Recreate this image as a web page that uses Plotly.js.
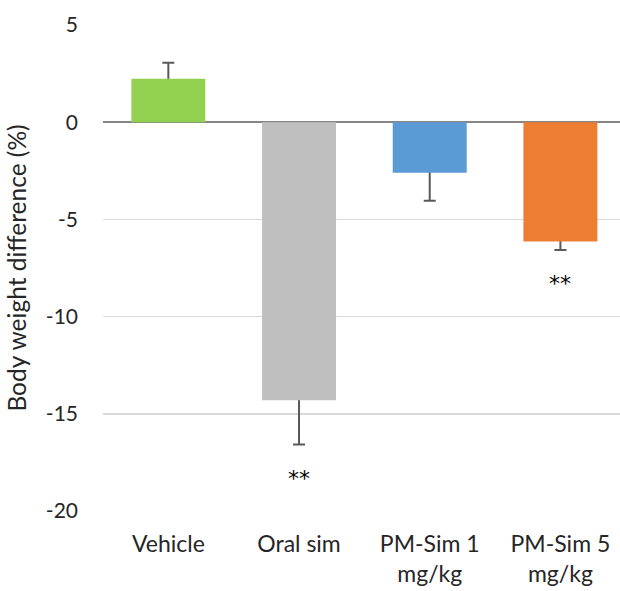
<!DOCTYPE html>
<html>
<head>
<meta charset="utf-8">
<script src="https://cdn.plot.ly/plotly-3.0.1.min.js"></script>
<style>html,body{margin:0;padding:0;background:#fff;}#chart{width:620px;height:591px;}</style>
</head>
<body>
<div id="chart"></div>
<script>
const categories = ["Vehicle", "Oral sim", "PM-Sim 1<br>mg/kg", "PM-Sim 5<br>mg/kg"];
const values = [2.24, -14.3, -2.6, -6.14];
const errors = [0.82, 2.28, 1.44, 0.43];
const colors = ["#92D050", "#BFBFBF", "#5B9BD5", "#ED7D31"];
const significance = ["", "**", "", "**"];
const yTicks = [5, 0, -5, -10, -15, -20];

// one-sided error bars: the inner cap is tucked inside the bar, which is drawn over it
const inner = 0.25;
const errPlus = values.map((v, i) => v >= 0 ? errors[i] : inner);
const errMinus = values.map((v, i) => v < 0 ? errors[i] : inner);

const errTrace = {
  type: "bar",
  x: categories,
  y: values,
  width: 0.566,
  marker: {color: "rgba(0,0,0,0)", line: {width: 0}},
  error_y: {
    type: "data",
    symmetric: false,
    array: errPlus,
    arrayminus: errMinus,
    color: "#595959",
    thickness: 2,
    width: 6
  },
  hoverinfo: "none"
};

const barTrace = {
  type: "bar",
  x: categories,
  y: values,
  width: 0.566,
  marker: {color: colors, line: {width: 0}},
  hoverinfo: "none"
};

const annotations = significance.map((s, i) => ({
  x: categories[i],
  y: values[i] - errors[i],
  xref: "x", yref: "y",
  text: s,
  showarrow: false,
  yanchor: "middle",
  yshift: -34,
  font: {family: "DejaVu Sans, sans-serif", size: 22, color: "#000"}
})).filter(a => a.text);

const layout = {
  width: 620, height: 591,
  margin: {l: 103, r: 0, t: 25, b: 80},
  paper_bgcolor: "#fff", plot_bgcolor: "#fff",
  showlegend: false,
  barmode: "overlay",
  font: {family: "Lato, sans-serif", size: 21, color: "#262626"},
  xaxis: {
    type: "category",
    range: [-0.5, 3.456],
    showgrid: false, zeroline: false, showline: false,
    ticks: "", ticklabelstandoff: 17,
    tickfont: {family: "Lato, sans-serif", size: 23, color: "#262626"}
  },
  yaxis: {
    range: [-20, 5],
    tickvals: yTicks,
    ticktext: yTicks.map(String),
    showgrid: true, gridcolor: "#d9d9d9", gridwidth: 1.5,
    zeroline: true, zerolinecolor: "#868686", zerolinewidth: 1.5,
    showline: false, ticks: "", ticklabelstandoff: 24,
    tickfont: {family: "Lato, sans-serif", size: 21, color: "#262626"},
    title: {text: "Body weight difference (%)", standoff: 12, font: {family: "Lato, sans-serif", size: 24.5, color: "#262626"}}
  },
  annotations: annotations
};

Plotly.newPlot("chart", [errTrace, barTrace], layout, {displayModeBar: false, staticPlot: true});
</script>
</body>
</html>
